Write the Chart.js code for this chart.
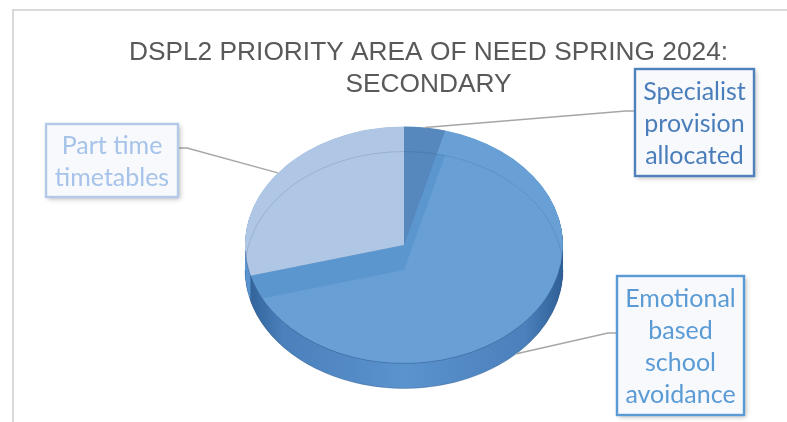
<!DOCTYPE html>
<html>
<head>
<meta charset="utf-8">
<script src="https://cdn.jsdelivr.net/npm/chart.js@4.4.0/dist/chart.umd.min.js"></script>
<style>
  html, body { margin: 0; padding: 0; background: #ffffff; }
  #chart { display: block; }
</style>
</head>
<body>
<canvas id="chart" width="787" height="422"></canvas>
<script>
// data
const titleLines = ['DSPL2 PRIORITY AREA OF NEED SPRING 2024:', 'SECONDARY'];
const categories = ['Specialist provision allocated', 'Emotional based school avoidance', 'Part time timetables'];
const labelLines = [['Specialist', 'provision', 'allocated'], ['Emotional', 'based', 'school', 'avoidance'], ['Part time', 'timetables']];
const counts = [1, 16, 7];

// colours
const faceColors = ['#5687bd', '#68a0d6', '#b0c6e5'];
const textColors = ['#4a7ebb', '#5b9bd5', '#a6c3ea'];
const boxBorders = ['#4f81bd', '#5b9bd5', '#b4c9e8'];

// where the tilted pie sits on the page
const TX = 404, TY = 245, RX = 159, SY = 0.745, DEPTH = 25;

// label boxes (Excel had them placed by hand)
const boxes = [
    {x: 635, y: 69, w: 119, h: 107, joinY: 111, side: 'left'},
    {x: 617, y: 276, w: 127, h: 139, joinY: 333, side: 'left'},
    {x: 46, y: 124, w: 132, h: 73, joinY: 148, side: 'right'}
];

function faceTransform(ctx, arc){
    const k = RX / arc.outerRadius;
    ctx.translate(TX, TY);
    ctx.scale(k, k * SY);
    ctx.translate(-arc.x, -arc.y);
}

function wedge(ctx, a){
    ctx.beginPath();
    ctx.moveTo(a.x, a.y);
    ctx.arc(a.x, a.y, a.outerRadius, a.startAngle, a.endAngle);
    ctx.closePath();
}

function sideFill(ctx, a, i){
    if(i === 1){
        const g = ctx.createLinearGradient(a.x - a.outerRadius, 0, a.x + a.outerRadius, 0);
        g.addColorStop(0, '#2f5f96');
        g.addColorStop(0.12, '#4a80bb');
        g.addColorStop(0.5, '#5b93cf');
        g.addColorStop(0.88, '#4a80bb');
        g.addColorStop(1, '#2f5f96');
        return g;
    }
    return i === 0 ? '#44709f' : '#5b95d0';
}

const framePlugin = {
    id: 'frame',
    beforeDraw(chart){
        const ctx = chart.ctx;
        ctx.save();
        ctx.strokeStyle = '#d9d9d9';
        ctx.lineWidth = 2;
        ctx.beginPath();
        ctx.moveTo(13, 430);
        ctx.lineTo(13, 10);
        ctx.lineTo(800, 10);
        ctx.stroke();
        ctx.restore();
    }
};

const pie3dPlugin = {
    id: 'pie3d',
    beforeDatasetsDraw(chart){
        const ctx = chart.ctx;
        const arcs = chart.getDatasetMeta(0).data;
        // side walls: stack of shifted copies
        for(let d = DEPTH; d > 0; d -= 0.5){
            ctx.save();
            ctx.translate(0, d);
            faceTransform(ctx, arcs[0]);
            arcs.forEach(function(a, i){
                wedge(ctx, a);
                ctx.fillStyle = sideFill(ctx, a, i);
                ctx.fill();
            });
            ctx.restore();
        }
        // bottom edge of the wall
        ctx.save();
        ctx.translate(0, DEPTH);
        faceTransform(ctx, arcs[0]);
        ctx.beginPath();
        ctx.arc(arcs[0].x, arcs[0].y, arcs[0].outerRadius, 0, Math.PI);
        ctx.restore();
        ctx.save();
        ctx.strokeStyle = 'rgba(40,80,130,0.35)';
        ctx.lineWidth = 1;
        ctx.stroke();
        ctx.restore();

        // top faces are drawn by chart.js in this transform
        ctx.save();
        faceTransform(ctx, arcs[0]);
    },
    afterDatasetsDraw(chart){
        const ctx = chart.ctx;
        const arcs = chart.getDatasetMeta(0).data;
        const k = RX / arcs[0].outerRadius;
        const shift = DEPTH / (k * SY);
        // see-through look of the lower parts
        arcs.forEach(function(face, i){
            ctx.save();
            wedge(ctx, face);
            ctx.clip();
            ctx.translate(0, shift);
            arcs.forEach(function(a, j){
                if(j === i) return;
                wedge(ctx, a);
                ctx.fillStyle = 'rgba(30,100,170,0.16)';
                ctx.fill();
            });
            ctx.beginPath();
            ctx.arc(face.x, face.y, face.outerRadius, 0, Math.PI * 2);
            ctx.strokeStyle = 'rgba(40,70,110,0.18)';
            ctx.lineWidth = 1 / k;
            ctx.stroke();
            ctx.restore();
        });
        // front rim of the top face
        ctx.beginPath();
        ctx.arc(arcs[0].x, arcs[0].y, arcs[0].outerRadius, 0.05, Math.PI - 0.05);
        ctx.restore();
        ctx.save();
        ctx.strokeStyle = 'rgba(40,80,130,0.45)';
        ctx.lineWidth = 1;
        ctx.stroke();
        ctx.restore();
    }
};

const calloutPlugin = {
    id: 'callouts',
    afterDraw(chart){
        const ctx = chart.ctx;
        const arcs = chart.getDatasetMeta(0).data;
        arcs.forEach(function(a, i){
            const mid = (a.startAngle + a.endAngle) / 2;
            const sin = Math.sin(mid);
            const px = TX + RX * Math.cos(mid);
            const py = TY + RX * SY * sin + (sin > 0.2 ? DEPTH : 0);
            const b = boxes[i];
            const ex = b.side === 'left' ? b.x : b.x + b.w;
            const elbow = b.side === 'left' ? ex - 9 : ex + 9;

            ctx.save();
            ctx.strokeStyle = '#a6a6a6';
            ctx.lineWidth = 1.4;
            ctx.beginPath();
            ctx.moveTo(px, py);
            ctx.lineTo(elbow, b.joinY);
            ctx.lineTo(ex, b.joinY);
            ctx.stroke();
            ctx.restore();

            ctx.save();
            ctx.shadowColor = 'rgba(0,0,0,0.28)';
            ctx.shadowBlur = 5;
            ctx.shadowOffsetX = 2;
            ctx.shadowOffsetY = 2;
            ctx.fillStyle = '#f7f9fc';
            ctx.fillRect(b.x, b.y, b.w, b.h);
            ctx.restore();

            ctx.save();
            ctx.strokeStyle = boxBorders[i];
            ctx.lineWidth = 2.4;
            ctx.strokeRect(b.x, b.y, b.w, b.h);
            ctx.fillStyle = textColors[i];
            ctx.font = '25px Lato, "Open Sans", sans-serif';
            ctx.textAlign = 'center';
            ctx.textBaseline = 'middle';
            const lines = labelLines[i];
            const lh = 32;
            const cy = b.y + b.h / 2 + 1;
            lines.forEach(function(t, n){
                ctx.fillText(t, b.x + b.w / 2, cy + (n - (lines.length - 1) / 2) * lh);
            });
            ctx.restore();
        });
    }
};

new Chart(document.getElementById('chart'), {
    type: 'pie',
    data: {
        labels: categories,
        datasets: [{
            data: counts,
            backgroundColor: faceColors,
            borderWidth: 0,
            clip: false
        }]
    },
    options: {
        responsive: false,
        animation: false,
        events: [],
        layout: {
            padding: {left: 70, right: 0, top: 10, bottom: 10}
        },
        plugins: {
            legend: {display: false},
            tooltip: {enabled: false},
            title: {
                display: true,
                text: titleLines,
                color: '#595959',
                font: {
                    family: '"Liberation Sans", Arial, sans-serif',
                    size: 26.3,
                    weight: 'normal',
                    lineHeight: 1.22
                },
                padding: {top: 27, bottom: 10}
            }
        }
    },
    plugins: [framePlugin, pie3dPlugin, calloutPlugin]
});
</script>
</body>
</html>
